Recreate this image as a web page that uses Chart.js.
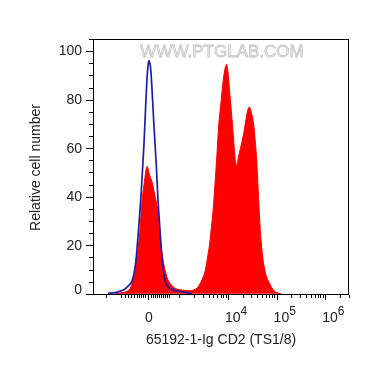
<!DOCTYPE html>
<html>
<head>
<meta charset="utf-8">
<script src="https://cdn.jsdelivr.net/npm/chart.js@4/dist/chart.umd.min.js"></script>
<style>
html,body{margin:0;padding:0;background:#fff;}
#c{display:block;}
</style>
</head>
<body>
<canvas id="c" width="370" height="365"></canvas>
<script>
// x values are in display units of the biexponential axis (decades: 10^4 -> 4)
const controlX = [1.53,1.67,1.77,1.88,1.96,2.02,2.06,2.10,2.14,2.19,2.23,2.27,2.31,2.34,2.37,2.40,2.43,2.47,2.52,2.56,2.60,2.64,2.68,2.72,2.78,2.87,3.01,3.13,3.26];
const controlY = [0.2,0.5,1,2,3.5,5,8,13,22,35,48,62,80,91,96,94,86,71,54,38,26,15,8,4.5,2.5,1.5,1,0.5,0];

const sampleX = [1.67,1.84,1.92,1.98,2.02,2.06,2.09,2.12,2.15,2.19,2.22,2.25,2.29,2.32,2.34,2.37,2.40,2.43,2.46,2.49,2.53,2.56,2.58,2.61,2.64,2.67,2.70,2.74,2.78,2.84,2.89,2.97,3.07,3.18,3.28,3.36,3.42,3.48,3.53,3.57,3.61,3.65,3.69,3.73,3.77,3.81,3.86,3.90,3.94,3.97,4.00,4.03,4.06,4.09,4.12,4.15,4.18,4.21,4.25,4.29,4.33,4.37,4.41,4.44,4.47,4.52,4.56,4.59,4.62,4.65,4.68,4.72,4.76,4.80,4.85,4.90,4.95,5.01,5.09];
const sampleY = [0,0.5,1,2,4,6.5,10,14,19,27,36,42,48,52,52.5,50,48,46.5,44,41,37,33,27,22,17,13,10,7,5,3.5,2.5,1.8,1.5,1.3,1.5,2.3,4,6.5,9.5,14,19,26,34,45,57,70,80,88,93,94.5,91,84,77,70,62,55,52.5,56,59.5,63,67,72,76,77,75.5,71,63,55,43,31,22,14,9.5,6.5,4.5,2.5,1.2,0.4,0];

const xTickValues = [2.35, 4, 5, 6];
const xTickLabels = ['0', '10^4', '10^5', '10^6'];
const xMinorTicks = [1.48,1.79,1.88,1.94,2.00,2.06,2.12,2.16,2.21,2.25,2.29,2.41,2.45,2.49,2.54,2.58,2.62,2.66,2.70,2.74,2.78,
  3.00,3.30,3.48,3.60,3.70,3.78,3.85,3.90,3.95,
  4.30,4.48,4.60,4.70,4.78,4.85,4.90,4.95,
  5.30,5.48,5.60,5.70,5.78,5.85,5.90,5.95,
  6.30,6.48];
const yTickValues = [0, 20, 40, 60, 80, 100];
const yMinorTicks = [5,10,15,25,30,35,45,50,55,65,70,75,85,90,95,105];

const xTitle = '65192-1-Ig CD2 (TS1/8)';
const yTitle = 'Relative cell number';
const watermark = 'WWW.PTGLAB.COM';

const toPts = (xs, ys) => xs.map((x, i) => ({x: x, y: ys[i]}));
const FONT = '"Liberation Sans", Arial, sans-serif';
const TXT = '#222';

const axesPlugin = {
  id: 'axesPlugin',
  afterDatasetsDraw(chart) {
    const ctx = chart.ctx;
    const a = chart.chartArea;
    const xs = chart.scales.x, ys = chart.scales.y;
    ctx.save();
    // watermark
    ctx.font = '17px ' + FONT;
    ctx.textAlign = 'center';
    ctx.textBaseline = 'middle';
    ctx.fillStyle = '#f2f2f2';
    ctx.strokeStyle = '#c4c4c4';
    ctx.lineWidth = 0.8;
    ctx.fillText(watermark, 222, 52);
    ctx.strokeText(watermark, 222, 52);

    // frame
    ctx.strokeStyle = '#000';
    ctx.lineWidth = 1;
    ctx.strokeRect(Math.round(a.left) + 0.5, Math.round(a.top) + 0.5,
                   Math.round(a.right - a.left) - 1, Math.round(a.bottom - a.top) - 1);
    const bottom = Math.round(a.bottom);
    const left = Math.round(a.left);
    ctx.beginPath();
    // y ticks
    yTickValues.forEach(v => {
      const p = Math.round(ys.getPixelForValue(v)) + 0.5;
      ctx.moveTo(left - 7, p); ctx.lineTo(left, p);
    });
    yMinorTicks.forEach(v => {
      if (v > ys.max) return;
      const p = Math.round(ys.getPixelForValue(v)) + 0.5;
      ctx.moveTo(left - 4, p); ctx.lineTo(left, p);
    });
    // x ticks
    xTickValues.forEach(v => {
      const p = Math.round(xs.getPixelForValue(v)) + 0.5;
      ctx.moveTo(p, bottom); ctx.lineTo(p, bottom + 5);
    });
    xMinorTicks.forEach(v => {
      if (v < xs.min || v > xs.max) return;
      const p = Math.round(xs.getPixelForValue(v)) + 0.5;
      ctx.moveTo(p, bottom); ctx.lineTo(p, bottom + 3);
    });
    ctx.stroke();

    // y labels
    ctx.fillStyle = TXT;
    ctx.font = '14px ' + FONT;
    ctx.textAlign = 'right';
    ctx.textBaseline = 'middle';
    yTickValues.forEach(v => {
      const off = v === 0 ? -4 : 0;
      ctx.fillText(String(v), 82, ys.getPixelForValue(v) + 0.5 + off);
    });
    // x labels
    ctx.textBaseline = 'alphabetic';
    xTickValues.forEach((v, i) => {
      const p = xs.getPixelForValue(v);
      const parts = xTickLabels[i].split('^');
      if (parts.length === 1) {
        ctx.font = '14px ' + FONT;
        ctx.textAlign = 'center';
        ctx.fillText(parts[0], p + 1, 322);
      } else {
        ctx.font = '14px ' + FONT;
        ctx.textAlign = 'left';
        const x0 = p - 3;
        ctx.fillText(parts[0], x0, 322);
        const w = ctx.measureText(parts[0]).width;
        ctx.font = '12px ' + FONT;
        ctx.fillText(parts[1], x0 + w, 315);
      }
    });
    // titles
    ctx.font = '14px ' + FONT;
    ctx.textAlign = 'center';
    ctx.fillText(xTitle, 221, 344);
    ctx.translate(40, 167.5);
    ctx.rotate(-Math.PI / 2);
    ctx.fillText(yTitle, 0, 0);
    ctx.restore();
  }
};

new Chart(document.getElementById('c'), {
  type: 'line',
  data: {
    datasets: [
      {
        label: 'Sample',
        data: toPts(sampleX, sampleY),
        borderColor: '#ff0000',
        backgroundColor: '#ff0000',
        borderWidth: 1,
        fill: 'origin',
        pointRadius: 0,
        tension: 0.3,
        order: 2
      },
      {
        label: 'Control',
        data: toPts(controlX, controlY),
        borderColor: '#1e1ea6',
        backgroundColor: 'rgba(0,0,0,0)',
        borderWidth: 1.7,
        fill: false,
        pointRadius: 0,
        tension: 0.3,
        order: 1
      }
    ]
  },
  options: {
    responsive: false,
    animation: false,
    devicePixelRatio: 1,
    layout: { padding: { left: 93, top: 39, right: 21, bottom: 70 } },
    plugins: { legend: { display: false }, tooltip: { enabled: false } },
    scales: {
      x: { type: 'linear', min: 1.22, max: 6.49, display: false },
      y: { type: 'linear', min: -0.5, max: 105, display: false }
    }
  },
  plugins: [axesPlugin]
});
</script>
</body>
</html>
